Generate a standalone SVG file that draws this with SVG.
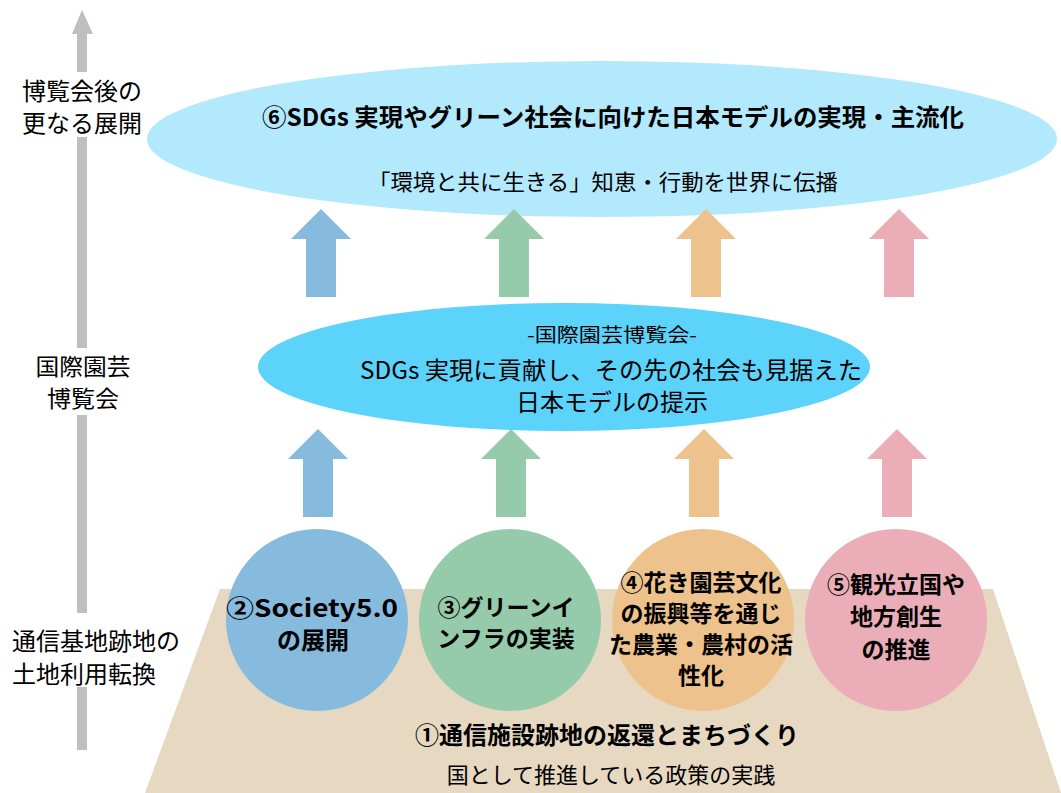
<svg xmlns="http://www.w3.org/2000/svg" width="1061" height="793" viewBox="0 0 1061 793">
<style>
text{font-family:"Noto Sans CJK JP","Noto Sans",sans-serif;fill:#000;dominant-baseline:central}
.b{font-weight:bold}
.c{text-anchor:middle}
.axis{fill:#bfbfbf}
.blue{fill:#86bbde}
.green{fill:#95cbab}
.orange{fill:#eec28d}
.pink{fill:#ebadb8}
</style>
<rect width="1061" height="793" fill="#fff"/>
<g id="axis">
<polygon class="axis" points="82,10 93,34 87,34 87,72 77,72 77,34 72,34"/>
<rect class="axis" x="77" y="137" width="10" height="211"/>
<rect class="axis" x="77" y="415" width="10" height="198"/>
<rect class="axis" x="77" y="687" width="10" height="63"/>
</g>
<g id="labels-left">
<text x="22" y="89" font-size="24">博覧会後の</text>
<text x="22" y="121" font-size="24">更なる展開</text>
<text x="83" y="365" font-size="23" class="c" textLength="95" lengthAdjust="spacingAndGlyphs">国際園芸</text>
<text x="83" y="397" font-size="23" class="c" textLength="72" lengthAdjust="spacingAndGlyphs">博覧会</text>
<text x="12" y="639" font-size="24">通信基地跡地の</text>
<text x="12" y="672" font-size="24">土地利用転換</text>
</g>
<g id="base">
<polygon points="220,589 993,589 1061,793 145,793" fill="#e6d8c1"/>
<text x="607" y="733" font-size="24" class="b c">①通信施設跡地の返還とまちづくり</text>
<text x="611" y="773" font-size="22" class="c">国として推進している政策の実践</text>
</g>
<g id="top-goal">
<ellipse cx="602" cy="139" rx="455" ry="78" fill="#b3e9fd"/>
<text x="613" y="115" font-size="24" class="b c" textLength="702" lengthAdjust="spacingAndGlyphs">⑥SDGs 実現やグリーン社会に向けた日本モデルの実現・主流化</text>
<text x="603" y="180" font-size="22" class="c" textLength="470" lengthAdjust="spacingAndGlyphs">「環境と共に生きる」知恵・行動を世界に伝播</text>
</g>
<g id="expo">
<ellipse cx="564" cy="367" rx="306" ry="64" fill="#5cd3fb"/>
<text x="612" y="333" font-size="19" class="c" textLength="170" lengthAdjust="spacingAndGlyphs">-国際園芸博覧会-</text>
<text x="611" y="368" font-size="24" class="c" textLength="502" lengthAdjust="spacingAndGlyphs">SDGs 実現に貢献し、その先の社会も見据えた</text>
<text x="612" y="400" font-size="24" class="c">日本モデルの提示</text>
</g>
<g id="connectors">
<polygon class="blue" points="321,209 351,239 336,239 336,297 306,297 306,239 291,239"/>
<polygon class="green" points="514,209 544,239 529,239 529,297 499,297 499,239 484,239"/>
<polygon class="orange" points="706,209 736,239 721,239 721,297 691,297 691,239 676,239"/>
<polygon class="pink" points="899,209 929,239 914,239 914,297 884,297 884,239 869,239"/>
<polygon class="blue" points="318,429 348,459 333,459 333,517 303,517 303,459 288,459"/>
<polygon class="green" points="511,429 541,459 526,459 526,517 496,517 496,459 481,459"/>
<polygon class="orange" points="704,429 734,459 719,459 719,517 689,517 689,459 674,459"/>
<polygon class="pink" points="897,429 927,459 912,459 912,517 882,517 882,459 867,459"/>
</g>
<g id="society">
<circle cx="317" cy="620" r="91" class="blue"/>
<text x="312" y="606" font-size="24" class="b c" textLength="172" lengthAdjust="spacingAndGlyphs">②Society5.0</text>
<text x="313" y="638" font-size="24" class="b c">の展開</text>
</g>
<g id="green-infra">
<circle cx="510" cy="620" r="91" class="green"/>
<text x="506" y="606" font-size="23" class="b c">③グリーンイ</text>
<text x="506" y="637" font-size="23" class="b c">ンフラの実装</text>
</g>
<g id="horticulture">
<circle cx="703" cy="620" r="91" class="orange"/>
<text x="701" y="581" font-size="23" class="b c">④花き園芸文化</text>
<text x="701" y="612" font-size="23" class="b c">の振興等を通じ</text>
<text x="701" y="643" font-size="23" class="b c">た農業・農村の活</text>
<text x="701" y="674" font-size="23" class="b c">性化</text>
</g>
<g id="tourism">
<circle cx="896" cy="620" r="91" class="pink"/>
<text x="896" y="583" font-size="23" class="b c">⑤観光立国や</text>
<text x="896" y="615" font-size="23" class="b c">地方創生</text>
<text x="896" y="648" font-size="23" class="b c">の推進</text>
</g>
</svg>
